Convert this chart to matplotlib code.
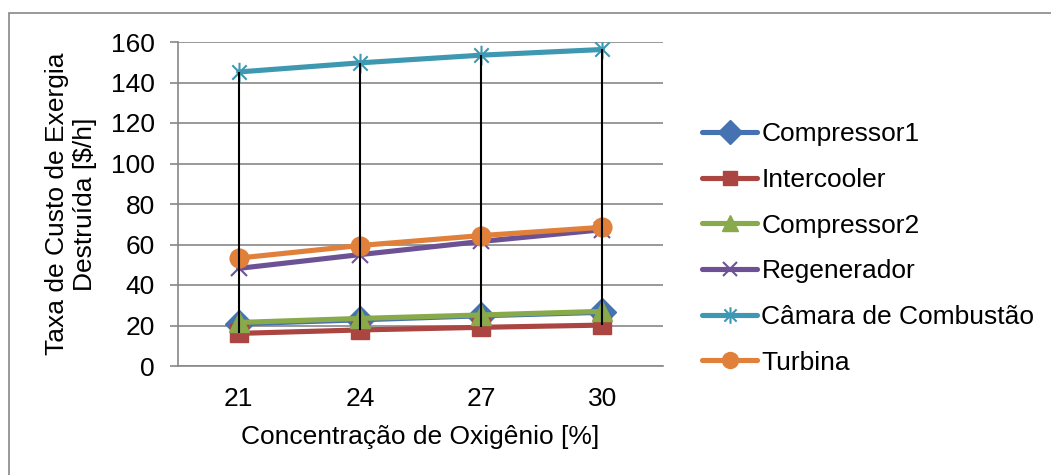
import matplotlib
matplotlib.use("Agg")
import matplotlib.pyplot as plt
from matplotlib.path import Path
from matplotlib.patches import Rectangle
import numpy as np

plt.rcParams['font.family'] = ['Liberation Sans', 'DejaVu Sans']

categories = ["21", "24", "27", "30"]
compressor1 = [20.8, 22.8, 24.8, 26.5]
intercooler = [16.1, 17.8, 19.1, 20.2]
compressor2 = [21.5, 23.5, 25.2, 27.0]
regenerador = [48.2, 55.0, 61.5, 67.3]
camara = [145.2, 149.7, 153.5, 156.3]
turbina = [53.3, 59.5, 64.4, 68.5]
yticks = [0, 20, 40, 60, 80, 100, 120, 140, 160]

W, H = 1051, 475
FS = 19
fig = plt.figure(figsize=(W / 100, H / 100), dpi=100)
ax = fig.add_axes([178 / W, 1 - 366 / H, (663 - 178) / W, (366 - 42) / H])

star = Path([(-1, -1), (1, 1), (-1, 1), (1, -1), (0, -1.35), (0, 1.35)],
            [Path.MOVETO, Path.LINETO, Path.MOVETO, Path.LINETO, Path.MOVETO, Path.LINETO])

x = np.arange(len(categories))
series = [
    ("Compressor1", compressor1, "#4572B0", "D", 14, True),
    ("Intercooler", intercooler, "#AA4541", "s", 12.5, True),
    ("Compressor2", compressor2, "#88AA4B", "^", 14, True),
    ("Regenerador", regenerador, "#6C5294", "x", 12, False),
    ("Câmara de Combustão", camara, "#3F98B1", star, 14, False),
    ("Turbina", turbina, "#E0803A", "o", 13.5, True),
]
handles = []
for i, (name, vals, col, mk, ms, filled) in enumerate(series):
    if filled:
        h, = ax.plot(x, vals, color=col, lw=3.7, marker=mk, ms=ms, mfc=col, mec=col,
                     mew=1, label=name, zorder=3 + i * 0.1, solid_capstyle='round')
    else:
        h, = ax.plot(x, vals, color=col, lw=3.7, marker=mk, ms=ms, mfc='none', mec=col,
                     mew=1.5, label=name, zorder=3 + i * 0.1, solid_capstyle='round')
    handles.append(h)

allv = np.array([compressor1, intercooler, compressor2, regenerador, camara, turbina])
ax.vlines(x, allv.min(axis=0), allv.max(axis=0), color='black', lw=1.5, zorder=5)

ax.set_xlim(-0.5, 3.5)
ax.set_ylim(0, 160)
ax.set_yticks(yticks)
ax.set_xticks(x)
ax.set_xticklabels(categories)
grid_col = "#878787"
ax.yaxis.grid(True, color=grid_col, lw=1.2)
ax.set_axisbelow(True)
for s in ['top', 'right']:
    ax.spines[s].set_visible(False)
for s in ['left', 'bottom']:
    ax.spines[s].set_color(grid_col)
    ax.spines[s].set_linewidth(1.2)
ax.tick_params(axis='y', length=5.5, width=1.2, color=grid_col, labelsize=FS, pad=11)
ax.tick_params(axis='x', length=0, labelsize=FS, pad=15)

fig.text(71 / W, 1 - 204 / H, "Taxa de Custo de Exergia\nDestruída [$/h]", rotation=90,
         ha='center', va='center', fontsize=FS, multialignment='center')
fig.text(420 / W, 1 - 437 / H, "Concentração de Oxigênio [%]", ha='center', va='center',
         fontsize=FS)

leg = fig.legend(handles=handles, loc='center left', bbox_to_anchor=(702 / W, 1 - 248.5 / H),
                 frameon=False, fontsize=FS, handlelength=2.1, handletextpad=0.15,
                 labelspacing=0.82, borderpad=0, borderaxespad=0, numpoints=1,
                 markerscale=0.85)

fig.patches.append(Rectangle((9 / W, -0.1), 1.2, (1 - 13 / H) + 0.1, transform=fig.transFigure,
                             fill=False, edgecolor=grid_col, lw=1.2))

fig.savefig("out.png", dpi=100)
